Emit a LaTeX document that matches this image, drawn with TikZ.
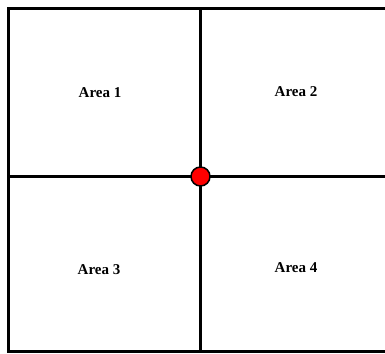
\documentclass[tikz,border=0pt]{standalone}
\usepackage{fontspec}
\setmainfont{Liberation Serif}
\usepackage{xcolor}
\usetikzlibrary{positioning,calc}
\definecolor{pdot}{HTML}{FF0000}
\tikzset{
  % quadrant label and divider lines
  area/.style  = {font=\fontsize{15}{17}\selectfont\bfseries, inner sep=0pt},
  wall/.style  = {line width=3pt, black},
  pivot/.style = {circle, fill=pdot, draw=black, line width=1.5pt,
                  minimum size=19pt, inner sep=0pt},
}
\begin{document}
\begin{tikzpicture}[x=1pt,y=1pt]
\useasboundingbox (0,0) rectangle (385,353);
\clip (0,0) rectangle (385,353);
% frame (right side runs off the page)
\coordinate (tl) at (8.5,344.5);
\coordinate (bl) at (8.5,1.5);
\coordinate (tr) at (392,344.5);
\coordinate (br) at (392,1.5);
\draw[wall] (tr) -- (tl) -- (bl) -- (br);
% dividers
\coordinate (top) at (200.5,344.5);
\coordinate (bot) at (200.5,1.5);
\coordinate (lft) at (8.5,176.5);
\coordinate (rgt) at (392,176.5);
\draw[wall] (top) -- (bot);
\draw[wall] (lft) -- (rgt);
\node[pivot] (ctr) at (200.5,176.5) {};
% labels
\node[area] (a1) at (100,260) {Area 1};
\node[area] (a2) at (296,261) {Area 2};
\node[area] (a3) at (99,83) {Area 3};
\node[area] (a4) at (296,85) {Area 4};
\end{tikzpicture}
\end{document}
